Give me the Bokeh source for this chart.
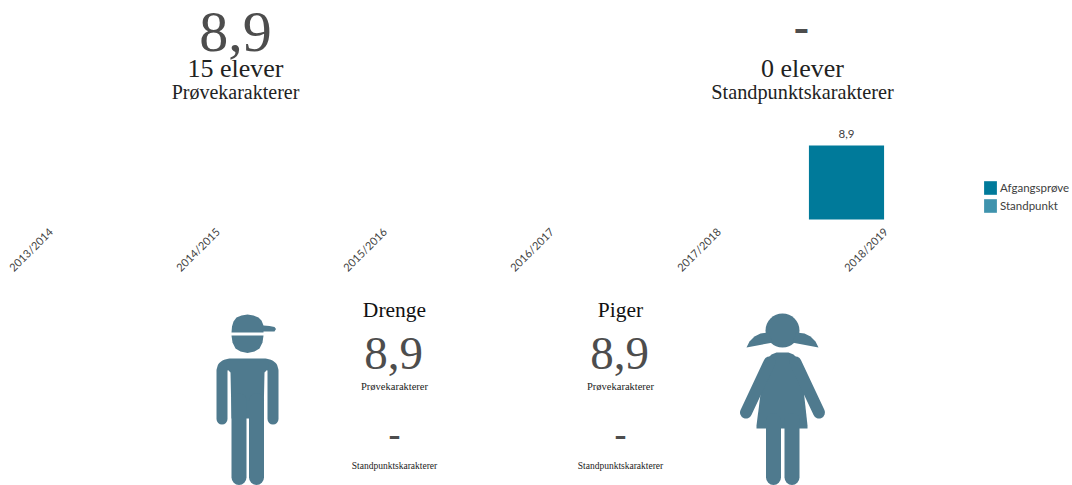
from math import pi
from bokeh.plotting import figure
from bokeh.models import Range1d, ColumnDataSource, FixedTicker, Legend, LegendItem
from bokeh.core.properties import value
from bokeh.embed import file_html
from bokeh.resources import INLINE

years = ["2013/2014", "2014/2015", "2015/2016", "2016/2017", "2017/2018", "2018/2019"]
afgangsprove = [float("nan")] * 5 + [8.9]
standpunkt = [float("nan")] * 6
bar_labels = ["", "", "", "", "", "8,9"]

kpi_prove = "8,9"
kpi_prove_n = "15 elever"
kpi_stand = "-"
kpi_stand_n = "0 elever"
lab_prove = "Prøvekarakterer"
lab_stand = "Standpunktskarakterer"
boys = ("Drenge", "8,9", "-")
girls = ("Piger", "8,9", "-")

W, H = 1072, 485
PITCH, C0 = 167.0, 11.0
BASE_PX, PX_PER_UNIT = 219.0, 74 / 8.9

p = figure(width=W, height=H, output_backend="svg", toolbar_location=None,
           x_range=Range1d(-C0 / PITCH, (W - C0) / PITCH),
           y_range=Range1d((H - BASE_PX) / -PX_PER_UNIT, BASE_PX / PX_PER_UNIT),
           min_border=0, outline_line_color=None, margin=(0, 0, 0, 0))
p.extra_x_ranges["px"] = Range1d(0, W)
p.extra_y_ranges["px"] = Range1d(H, 0)
p.grid.visible = False
p.yaxis.visible = False

ax = p.xaxis[0]
idx = list(range(len(years)))
shift = 39 / PITCH
ax.ticker = FixedTicker(ticks=[i + shift for i in idx])
ax.major_label_overrides = {i + shift: y for i, y in zip(idx, years)}
ax.major_label_orientation = pi / 4
ax.fixed_location = 0
ax.axis_line_color = None
ax.major_tick_line_color = None
ax.minor_tick_line_color = None
ax.major_label_text_font = "Lato"
ax.major_label_text_font_size = "11px"
ax.major_label_text_color = "#444444"
ax.major_label_standoff = 4

src = ColumnDataSource(dict(x=idx, a=afgangsprove, s=standpunkt, t=bar_labels))
r1 = p.vbar(x="x", top="a", bottom=0, width=0.45, source=src, fill_color="#007a9a", line_color=None)
r2 = p.vbar(x="x", top="s", bottom=0, width=0.45, source=src, fill_color="#3f93ad", line_color=None)
p.text(x="x", y="a", text="t", source=src, text_align="center", text_baseline="bottom",
       y_offset=-8, text_font=value("Lato"), text_font_size="11.5px", text_color="#404040")

leg = Legend(items=[LegendItem(label="Afgangsprøve", renderers=[r1]),
                    LegendItem(label="Standpunkt", renderers=[r2])],
             location=(982, H - 214), orientation="vertical", border_line_color=None,
             background_fill_alpha=0, glyph_width=16, glyph_height=17, label_height=17,
             spacing=1, padding=0, margin=0, label_standoff=2,
             label_text_font="Lato", label_text_font_size="11.5px", label_text_color="#404040")
p.add_layout(leg, "center")


def txt(x, y, s, size, font="Liberation Serif", color="#404040", style="normal"):
    p.text(x=[x], y=[y], text=[s], x_range_name="px", y_range_name="px", text_align="center",
           text_baseline="middle", text_font=value(font), text_font_size=f"{size}px",
           text_color=color, text_font_style=style)


txt(235, 31, kpi_prove, 58, color="#4d4d4d")
txt(235, 68, kpi_prove_n, 26, color="#222222")
txt(235, 91, lab_prove, 20, color="#222222")
txt(801, 26, kpi_stand, 46, color="#4d4d4d", style="bold")
txt(802, 68, kpi_stand_n, 26, color="#222222")
txt(802, 91, lab_stand, 20.3, color="#222222")

for cx, (name, pv, sv) in ((394, boys), (620, girls)):
    txt(cx, 309, name, 21.5, color="#111111")
    txt(cx - 1, 353, pv, 47, color="#4d4d4d")
    txt(cx, 386, lab_prove, 10.5, color="#222222")
    txt(cx, 433, sv, 36, color="#4d4d4d", style="bold")
    txt(cx, 465, lab_stand, 9.5, color="#222222")

ICON = "#4f7a8e"


def patch(xs, ys):
    p.patch(xs, ys, x_range_name="px", y_range_name="px", fill_color=ICON, line_color=None)


def limb(xs, ys, w):
    p.line(xs, ys, x_range_name="px", y_range_name="px", line_color=ICON, line_width=w,
           line_cap="round", line_join="round")


# boy
patch([231, 231.5, 233, 236, 241, 247, 253, 258, 261, 263, 269, 274, 275.5, 274, 263, 263, 231],
      [332, 326, 321, 317, 315, 314, 315, 317, 320, 325, 325.5, 326.5, 328.5, 331, 331, 332, 332])
patch([231, 263, 262, 259, 254, 247, 240, 235, 232],
      [335, 335, 342, 348, 351, 352.5, 351, 348, 342])
limb([221.5, 221.5, 222.5, 225, 229, 265, 269, 271.5, 272.5, 272.5],
     [418.5, 370, 366.5, 364.5, 363.5, 363.5, 364.5, 366.5, 370, 418.5], 11)
patch([226, 268, 268, 264, 263, 231, 230, 226], [360, 360, 368, 372, 418, 418, 372, 368])
limb([238.5, 238.5], [400, 477], 15)
limb([256, 256], [400, 477], 15)
# girl
p.scatter([782], [330], size=34, marker="circle", x_range_name="px", y_range_name="px",
          fill_color=ICON, line_color=None)
patch([746, 749, 754, 760, 768, 772, 770], [347, 341, 336, 333, 332, 342, 342.5])
patch([818, 815, 810, 804, 796, 792, 794], [347, 341, 336, 333, 332, 342, 342.5])
patch([768, 771, 776, 788, 793, 796, 801, 807, 807, 756, 756, 763],
      [357, 354, 352, 352, 354, 357, 370, 425, 428, 428, 425, 370])
limb([769, 745.5], [362, 412], 12)
limb([795, 818.5], [362, 412], 12)
limb([773, 773], [420, 477], 15)
limb([791.5, 791.5], [420, 477], 15)

open("out.html", "w").write(file_html(p, INLINE))
